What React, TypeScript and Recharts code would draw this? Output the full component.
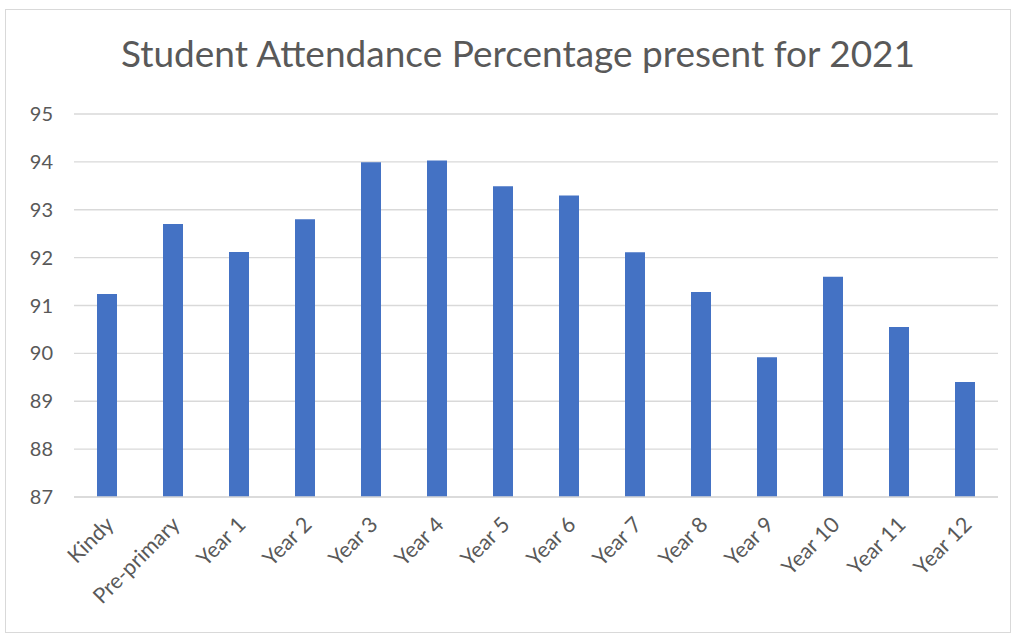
import React from "react";
import { BarChart, Bar, XAxis, YAxis, CartesianGrid } from "recharts";

const grades = [
  "Kindy", "Pre-primary", "Year 1", "Year 2", "Year 3", "Year 4", "Year 5",
  "Year 6", "Year 7", "Year 8", "Year 9", "Year 10", "Year 11", "Year 12",
];
const attendance = [
  91.24, 92.7, 92.12, 92.8, 93.99, 94.03, 93.49,
  93.3, 92.11, 91.28, 89.92, 91.6, 90.55, 89.4,
];
const yTicks = [87, 88, 89, 90, 91, 92, 93, 94, 95];

const FONT = "Lato, 'Open Sans', sans-serif";
const GREY = "#595959";

const data = grades.map((g, i) => ({ grade: g, pct: attendance[i] }));

function GradeTick(props: any) {
  const { x, y, payload } = props;
  const tx = x + 8;
  const ty = y + 21;
  return (
    <text
      x={tx}
      y={ty}
      transform={`rotate(-45, ${tx}, ${ty})`}
      textAnchor="end"
      fill={GREY}
      fontSize={21.5}
      fontFamily={FONT}
    >
      {payload.value}
    </text>
  );
}

export default function App() {
  return (
    <div
      style={{
        position: "absolute",
        left: 0,
        top: 0,
        width: 1016,
        height: 634,
        background: "#fff",
      }}
    >
      <div
        style={{
          position: "absolute",
          left: 5,
          top: 9,
          width: 1004,
          height: 622,
          border: "1px solid #d9d9d9",
        }}
      />
      <div
        style={{
          position: "absolute",
          left: 0,
          top: 31,
          width: 1036,
          textAlign: "center",
          fontFamily: FONT,
          fontSize: 37,
          lineHeight: 1.2,
          color: GREY,
        }}
      >
        Student Attendance Percentage present for 2021
      </div>
      <div style={{ position: "absolute", left: 0, top: 0 }}>
        <BarChart
          width={1016}
          height={634}
          data={data}
          margin={{ top: 114, right: 18, left: 14, bottom: 37 }}
          barCategoryGap={0}
        >
          <CartesianGrid vertical={false} stroke="#d9d9d9" strokeWidth={1.3} />
          <XAxis
            dataKey="grade"
            interval={0}
            height={100}
            tickLine={false}
            axisLine={{ stroke: "#d9d9d9", strokeWidth: 1.3 }}
            tick={<GradeTick />}
          />
          <YAxis
            width={60}
            domain={[87, 95]}
            ticks={yTicks}
            allowDataOverflow
            axisLine={false}
            tickLine={false}
            tick={{ fill: GREY, fontSize: 20, fontFamily: FONT }}
            tickMargin={15}
          />
          <Bar dataKey="pct" fill="#4472C4" barSize={20} isAnimationActive={false} />
        </BarChart>
      </div>
    </div>
  );
}
